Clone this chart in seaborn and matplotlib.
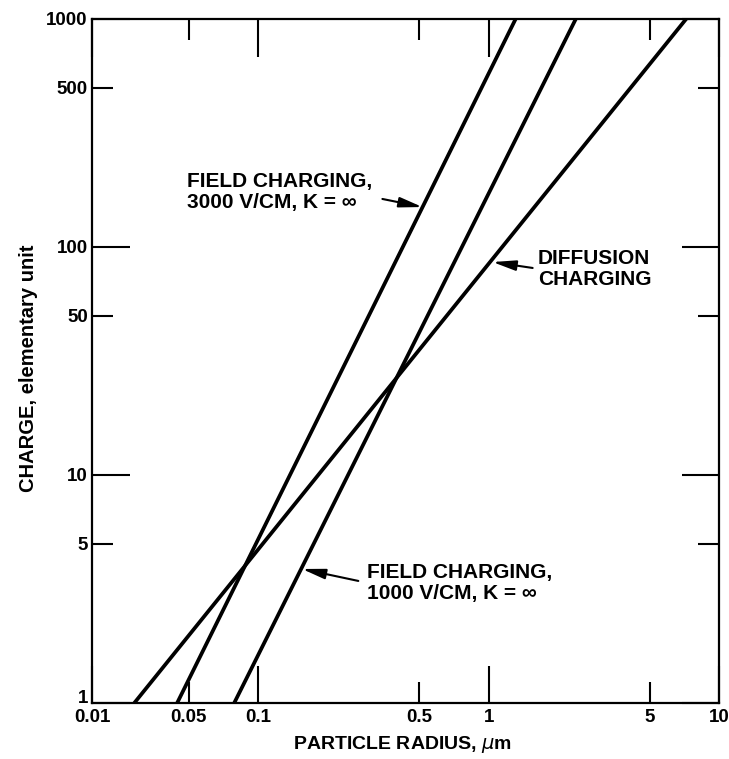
import matplotlib
matplotlib.use("Agg")
import matplotlib.pyplot as plt
import pandas as pd
import seaborn as sns
from matplotlib.patches import ArrowStyle

# ---- data ----
diffusion_radius = [0.029, 7.2]
diffusion_charge = [1, 1000]
field3000_radius = [0.0445, 1.31]
field3000_charge = [1, 1000]
field1000_radius = [0.0787, 2.39]
field1000_charge = [1, 1000]

x_limits = [0.019, 10]
y_limits = [1, 1000]
x_major_ticks = [0.019, 0.1, 1, 10]
x_major_labels = ["0.01", "0.1", "1", "10"]
x_minor_ticks = [0.05, 0.5, 5]
x_minor_labels = ["0.05", "0.5", "5"]
y_major_ticks = [1, 10, 100, 1000]
y_major_labels = ["1", "10", "100", "1000"]
y_minor_ticks = [5, 50, 500]
y_minor_labels = ["5", "50", "500"]

# annotations: text, text anchor (x, y), arrow tail, arrow tip (data coords)
ann_texts = ["FIELD CHARGING,\n3000 V/CM, K = \u221e",
             "DIFFUSION\nCHARGING",
             "FIELD CHARGING,\n1000 V/CM, K = \u221e"]
ann_text_pos = [(0.0491, 174), (1.633, 80.1), (0.298, 3.36)]
ann_tail = [(0.346, 162.4), (1.553, 80.9), (0.272, 3.43)]
ann_tip = [(0.516, 149.7), (1.04, 85.9), (0.155, 3.87)]

df = pd.concat([
    pd.DataFrame({"radius": diffusion_radius, "charge": diffusion_charge, "series": "diffusion"}),
    pd.DataFrame({"radius": field3000_radius, "charge": field3000_charge, "series": "field3000"}),
    pd.DataFrame({"radius": field1000_radius, "charge": field1000_charge, "series": "field1000"}),
], ignore_index=True)

sns.set_theme(style="ticks")
plt.rcParams["font.family"] = ["Liberation Sans", "DejaVu Sans"]
plt.rcParams["mathtext.fontset"] = "dejavusans"

fig = plt.figure(figsize=(7.29, 7.59), dpi=100)
ax = fig.add_axes([0.1262, 0.0738, 0.8601, 0.9012])
ax.set_xscale("log")
ax.set_yscale("log")

sns.lineplot(data=df, x="radius", y="charge", hue="series",
             palette=["black", "black", "black"], linewidth=2.7,
             legend=False, estimator=None, sort=False, ax=ax)

ax.set_xlim(*x_limits)
ax.set_ylim(*y_limits)

ax.set_xticks(x_major_ticks, labels=x_major_labels)
ax.set_xticks(x_minor_ticks, labels=x_minor_labels, minor=True)
ax.set_yticks(y_major_ticks, labels=y_major_labels)
ax.set_yticks(y_minor_ticks, labels=y_minor_labels, minor=True)

ax.tick_params(which="both", direction="in", top=True, right=True,
               labeltop=False, labelright=False, width=1.5,
               color="black", labelsize=13.5, labelcolor="black")
ax.tick_params(which="major", length=27)
ax.tick_params(which="minor", length=15)
ax.tick_params(axis="x", which="both", pad=4.5)
ax.tick_params(axis="y", which="both", pad=3)
for lbl in ax.get_xticklabels(which="both") + ax.get_yticklabels(which="both"):
    lbl.set_fontweight("bold")
for lbl in ax.get_yticklabels():
    if lbl.get_text() == "1":
        lbl.set_verticalalignment("baseline")

for sp in ax.spines.values():
    sp.set_visible(True)
    sp.set_linewidth(1.6)
    sp.set_color("black")

ax.set_xlabel(r"PARTICLE RADIUS, $\mu$m", fontsize=14, fontweight="bold", color="black")
ax.set_ylabel("CHARGE, elementary unit", fontsize=14.5, fontweight="bold", color="black")
ax.xaxis.set_label_coords(0.496, -0.046)
ax.yaxis.set_label_coords(-0.086, 0.49)

arrow_style = ArrowStyle("-|>", head_length=1.0, head_width=0.22)
for txt, pos, tail, tip in zip(ann_texts, ann_text_pos, ann_tail, ann_tip):
    ax.text(pos[0], pos[1], txt, ha="left", va="center", fontsize=15,
            fontweight="bold", color="black", linespacing=1.15)
    ax.annotate("", xy=tip, xytext=tail,
                arrowprops=dict(arrowstyle=arrow_style, color="black", lw=1.5,
                                mutation_scale=14, shrinkA=0, shrinkB=0))

ax.set_facecolor("white")
fig.patch.set_facecolor("white")
fig.savefig("out.png", dpi=100)
